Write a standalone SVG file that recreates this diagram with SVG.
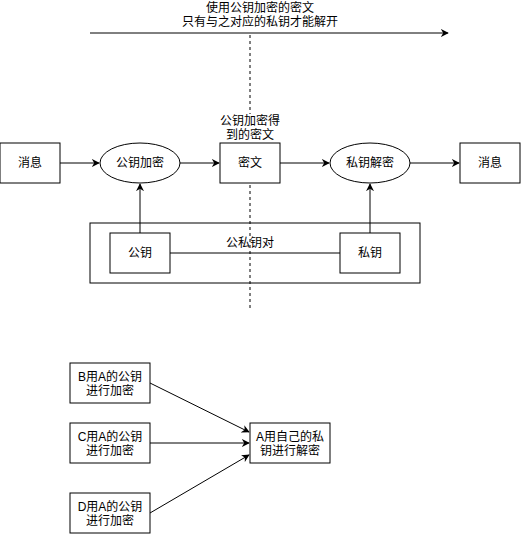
<svg xmlns="http://www.w3.org/2000/svg" width="521" height="534" viewBox="0 0 521 534">
<defs>
<marker id="arr" viewBox="0 0 10 10" refX="9" refY="5" markerWidth="8" markerHeight="8" markerUnits="userSpaceOnUse" orient="auto">
<path d="M0,0 L10,5 L0,10 L3,5 Z" fill="#000"/>
</marker>
<style>
.box{fill:#fff;stroke:#000;stroke-width:1}
.ln{fill:none;stroke:#000;stroke-width:1}
.t{font-family:"Liberation Sans","Noto Sans CJK SC",sans-serif;font-size:12px;fill:#000;text-anchor:middle}
</style>
</defs>
<rect width="521" height="534" fill="#fff"/>
<g id="connectors">
<line class="ln" x1="250" y1="35" x2="250" y2="310" stroke-dasharray="3,3"/>
<line class="ln" x1="90" y1="33" x2="448" y2="33" marker-end="url(#arr)"/>
<line class="ln" x1="60" y1="163" x2="99" y2="163" marker-end="url(#arr)"/>
<line class="ln" x1="180" y1="163" x2="219" y2="163" marker-end="url(#arr)"/>
<line class="ln" x1="280" y1="163" x2="329" y2="163" marker-end="url(#arr)"/>
<line class="ln" x1="410" y1="163" x2="459" y2="163" marker-end="url(#arr)"/>
<line class="ln" x1="140" y1="233" x2="140" y2="184" marker-end="url(#arr)"/>
<line class="ln" x1="370" y1="233" x2="370" y2="184" marker-end="url(#arr)"/>
<line class="ln" x1="170" y1="253" x2="340" y2="253"/>
<line class="ln" x1="150" y1="383" x2="249" y2="432" marker-end="url(#arr)"/>
<line class="ln" x1="150" y1="443" x2="249" y2="443" marker-end="url(#arr)"/>
<line class="ln" x1="150" y1="513" x2="249" y2="455" marker-end="url(#arr)"/>
</g>
<g id="top-label">
<text class="t" x="260" y="12">使用公钥加密的密文</text>
<text class="t" x="260" y="26">只有与之对应的私钥才能解开</text>
</g>
<g id="keypair">
<rect class="box" x="90" y="223" width="330" height="60" style="fill:none"/>
<text class="t" x="250" y="247">公私钥对</text>
</g>
<g id="msg1"><rect class="box" x="0" y="143" width="60" height="40"/><text class="t" x="30" y="167">消息</text></g>
<g id="enc"><ellipse class="box" cx="140" cy="163" rx="40" ry="20"/><text class="t" x="140" y="167">公钥加密</text></g>
<g id="cipher"><rect class="box" x="220" y="143" width="60" height="40"/><text class="t" x="250" y="167">密文</text>
<rect x="218" y="114" width="64" height="28" fill="#fff"/>
<text class="t" x="250" y="125">公钥加密得</text><text class="t" x="250" y="139">到的密文</text></g>
<g id="dec"><ellipse class="box" cx="370" cy="163" rx="40" ry="20"/><text class="t" x="370" y="167">私钥解密</text></g>
<g id="msg2"><rect class="box" x="460" y="143" width="60" height="40"/><text class="t" x="490" y="167">消息</text></g>
<g id="pub"><rect class="box" x="110" y="233" width="60" height="40"/><text class="t" x="140" y="257">公钥</text></g>
<g id="priv"><rect class="box" x="340" y="233" width="60" height="40"/><text class="t" x="370" y="257">私钥</text></g>
<g id="b"><rect class="box" x="70" y="363" width="80" height="40"/><text class="t" x="110" y="381">B用A的公钥</text><text class="t" x="110" y="395">进行加密</text></g>
<g id="c"><rect class="box" x="70" y="423" width="80" height="40"/><text class="t" x="110" y="441">C用A的公钥</text><text class="t" x="110" y="455">进行加密</text></g>
<g id="d"><rect class="box" x="70" y="493" width="80" height="40"/><text class="t" x="110" y="511">D用A的公钥</text><text class="t" x="110" y="525">进行加密</text></g>
<g id="a"><rect class="box" x="250" y="423" width="80" height="40"/><text class="t" x="290" y="441">A用自己的私</text><text class="t" x="290" y="455">钥进行解密</text></g>
</svg>
